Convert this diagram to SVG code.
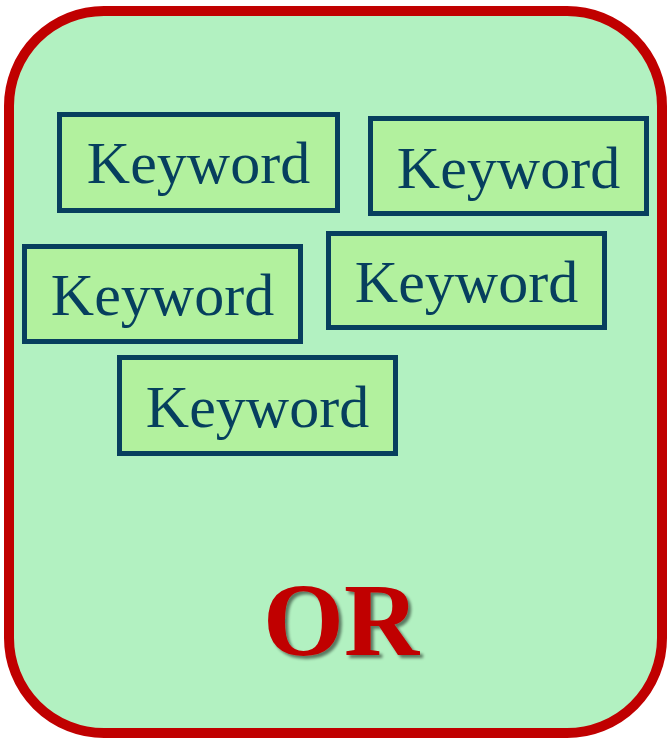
<svg xmlns="http://www.w3.org/2000/svg" width="668" height="739" viewBox="0 0 668 739">
<style>
.kw rect{fill:#b2f19e;stroke:#073f5e;stroke-width:5}
.kw text{font-family:"Liberation Serif",serif;font-size:60px;fill:#063f5e;text-anchor:middle}
.or{font-family:"Liberation Serif",serif;font-weight:bold;font-size:104px;fill:#c00000;text-anchor:middle}
</style>
<defs>
<filter id="sh" x="-10%" y="-10%" width="130%" height="130%">
<feGaussianBlur in="SourceAlpha" stdDeviation="1.5"/>
<feOffset dx="3" dy="3" result="b"/>
<feComponentTransfer><feFuncA type="linear" slope="0.5"/></feComponentTransfer>
<feMerge><feMergeNode/><feMergeNode in="SourceGraphic"/></feMerge>
</filter>
</defs>
<g id="container">
<rect x="9" y="11" width="653" height="722" rx="95" ry="95" fill="#b2f1c1" stroke="#c00000" stroke-width="10"/>
<text class="or" x="341" y="655" filter="url(#sh)">OR</text>
</g>
<g id="kw1" class="kw"><rect x="59.5" y="114.5" width="278" height="96"/><text x="198.5" y="183">Keyword</text></g>
<g id="kw2" class="kw"><rect x="370.5" y="118.5" width="276" height="95"/><text x="508.5" y="188">Keyword</text></g>
<g id="kw3" class="kw"><rect x="24.5" y="246.5" width="276" height="95"/><text x="162.5" y="315">Keyword</text></g>
<g id="kw4" class="kw"><rect x="328.5" y="233.5" width="276" height="94"/><text x="466.5" y="302">Keyword</text></g>
<g id="kw5" class="kw"><rect x="119.5" y="357.5" width="276" height="96"/><text x="257.5" y="427">Keyword</text></g>
<g id="connectors"/>
</svg>
